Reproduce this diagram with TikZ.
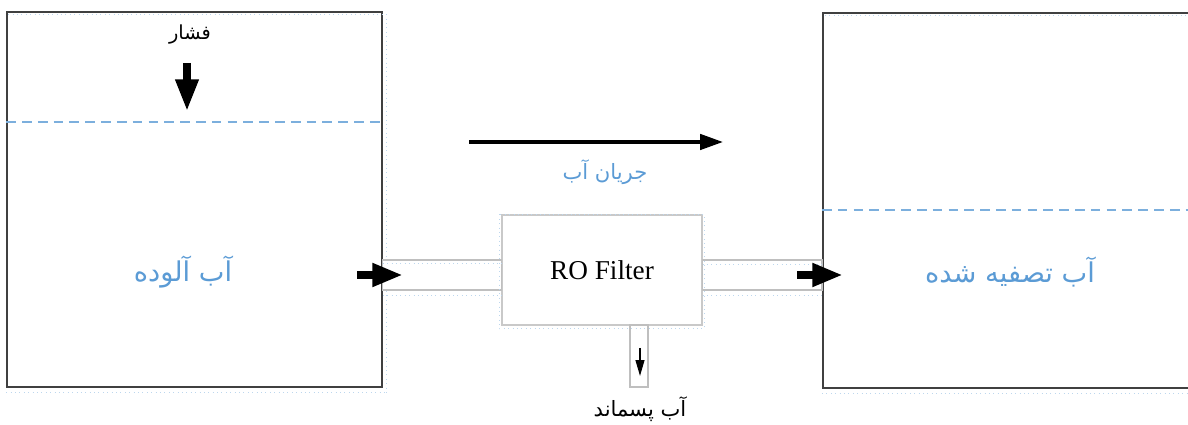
\documentclass[tikz,border=0pt]{standalone}
\usepackage{fontspec}
\setmainfont{Liberation Serif}
\newfontfamily\arabicfont[Script=Arabic]{DejaVu Sans}
\TeXXeTstate=1
\usetikzlibrary{arrows.meta,positioning,calc}
\definecolor{waterBlue}{HTML}{5B9BD5}
\definecolor{pipeGray}{HTML}{BFBFBF}
\definecolor{tankEdge}{HTML}{404040}
\definecolor{ghostBlue}{HTML}{BDD7EE}

\tikzset{
  tank/.style={draw=tankEdge,line width=0.9pt,minimum width=7.5cm,minimum height=7.5cm,inner sep=0pt},
  pipe/.style={draw=pipeGray,line width=0.7pt,fill=white},
  level/.style={waterBlue!80,line width=0.6pt,dash pattern=on 5.5pt off 3.5pt},
  ghost/.style={ghostBlue,dotted,line width=0.5pt},
  fatarrow/.style={line width=4.5pt,-{Triangle[width=12.5pt,length=17.5pt]}},
  label/.style={font=\arabicfont\fontsize{15.5}{18}\selectfont,text=waterBlue,inner sep=1pt},
  note/.style={font=\arabicfont\fontsize{12}{14}\selectfont,inner sep=1pt},
}

\begin{document}
\begin{tikzpicture}[x=0.02cm,y=-0.02cm]
  \useasboundingbox (0,0) rectangle (1188,425);

  % tanks
  \node[tank] (feed) at (194.5,199.5) {};
  \node[tank,anchor=north west] (clean) at (822,12) {};
  \draw[ghost] ($(feed.north west)+(2,3)$) -- ($(feed.north east)+(0,3)$);
  \draw[ghost] ($(feed.south west)+(0,5)$) -- ($(feed.south east)+(4,5)$);
  \draw[ghost] ($(feed.north east)+(4,3)$) -- ($(feed.south east)+(4,5)$);
  \draw[ghost] ($(clean.north west)+(3,3)$) -- ($(clean.north east)+(0,3)$);
  \draw[ghost] ($(clean.south west)+(0,5)$) -- ($(clean.south east)+(0,5)$);

  % water levels
  \draw[level] (feed.west |- 0,122) -- (feed.east |- 0,122);
  \draw[level] (clean.west |- 0,210) -- (1188,210);

  % filter and pipes
  \node[draw=pipeGray!85,line width=0.7pt,minimum width=4cm,minimum height=2.2cm,
        font=\fontsize{15.5}{18}\selectfont] (ro) at (602,270) {RO Filter};
  \draw[pipe] (feed.east |- 0,260) rectangle (ro.west |- 0,290);
  \draw[pipe] (ro.east |- 0,260) rectangle (clean.west |- 0,290);
  \draw[pipe] (630,325) rectangle (648,387);
  \draw[ghost] ($(ro.north west)+(-2,0)$) rectangle ($(ro.south east)+(2,3)$);
  \draw[ghost] (feed.east |- 0,263) -- (ro.west |- 0,263);
  \draw[ghost] (feed.east |- 0,295) -- (ro.west |- 0,295);
  \draw[ghost] (ro.east |- 0,264) -- (clean.west |- 0,264);
  \draw[ghost] (ro.east |- 0,295) -- (clean.west |- 0,295);

  % texts
  \node[label] (dirty) at (183,272) {\beginR آب آلوده\endR};
  \node[label] (pure) at (1010,272) {\beginR آب تصفیه شده\endR};
  \node[note,font=\arabicfont\fontsize{11}{13}\selectfont] (press) at (190,35) {\beginR فشار\endR};
  \node[label,font=\arabicfont\fontsize{12}{14}\selectfont] (flow) at (605,172) {\beginR جریان آب\endR};
  \node[note] (waste) at (640,409) {\beginR آب پسماند\endR};

  % arrows
  \coordinate (p0) at (187,63);
  \coordinate (p1) at (187,111);
  \draw[line width=4pt,-{Triangle[width=12.5pt,length=18pt]}] (p0) -- (p1);
  \coordinate (f0) at (469,142);
  \coordinate (f1) at (723,142);
  \draw[line width=2pt,-{Triangle[width=8.7pt,length=13pt]}] (f0) -- (f1);
  \coordinate (a0) at (357,275);
  \draw[fatarrow] (a0) -- (a0 -| 403,0);
  \coordinate (b0) at (797,275);
  \draw[fatarrow] (b0) -- (b0 -| 843,0);
  \coordinate (w0) at (640,348);
  \coordinate (w1) at (640,376);
  \draw[line width=0.9pt,-{Triangle[width=5pt,length=9pt]}] (w0) -- (w1);
\end{tikzpicture}
\end{document}
